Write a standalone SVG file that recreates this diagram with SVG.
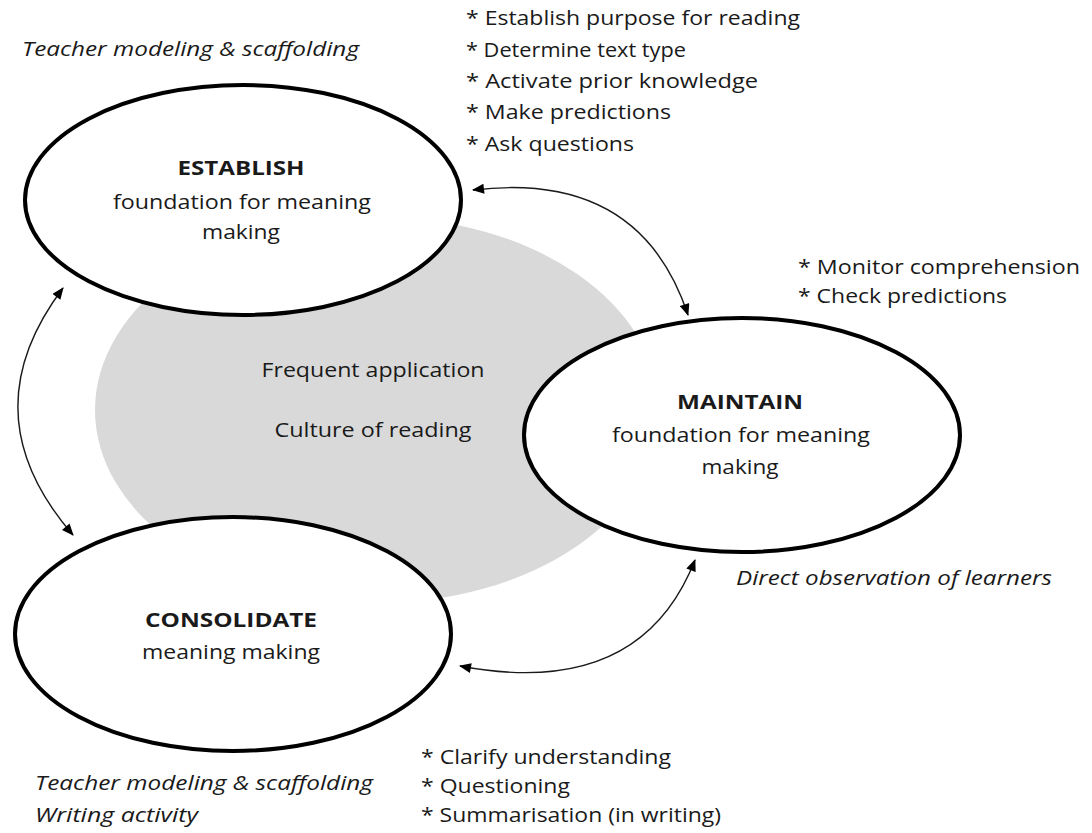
<svg xmlns="http://www.w3.org/2000/svg" width="1092" height="833" viewBox="0 0 1092 833">
  <style>
    text { font-family: "Open Sans", "Noto Sans", "Liberation Sans", sans-serif; fill: #1a1a1a; font-size: 20px; }
    .b { font-weight: bold; }
    .i { font-style: italic; }
    .m { text-anchor: middle; }
    .node { fill: #ffffff; stroke: #000000; stroke-width: 4; }
    .link { fill: none; stroke: #1a1a1a; stroke-width: 1.4; marker-start: url(#head); marker-end: url(#head); }
  </style>
  <defs>
    <marker id="head" viewBox="0 0 12 10" refX="11" refY="5" markerWidth="13" markerHeight="10" markerUnits="userSpaceOnUse" orient="auto-start-reverse">
      <path d="M0,0 L12,5 L0,10 z" fill="#000000"/>
    </marker>
  </defs>

  <rect width="1092" height="833" fill="#ffffff"/>

  <!-- shared core behind the three phases -->
  <g id="core">
    <ellipse cx="377" cy="410" rx="282" ry="193" fill="#d9d9d9"/>
    <text class="m" x="373" y="377" textLength="223" lengthAdjust="spacingAndGlyphs">Frequent application</text>
    <text class="m" x="373" y="437" textLength="197" lengthAdjust="spacingAndGlyphs">Culture of reading</text>
  </g>

  <!-- connectors -->
  <g id="connectors">
    <path class="link" d="M473,190 Q640,170 688,315"/>
    <path class="link" d="M63,288 Q-32,414 73,535"/>
    <path class="link" d="M460,666 Q640,700 695,560"/>
  </g>

  <g id="establish">
    <ellipse class="node" cx="243" cy="200" rx="218" ry="115"/>
    <text class="b m" x="241" y="175" textLength="127" lengthAdjust="spacingAndGlyphs">ESTABLISH</text>
    <text class="m" x="242" y="209" textLength="258" lengthAdjust="spacingAndGlyphs">foundation for meaning</text>
    <text class="m" x="241" y="239" textLength="78" lengthAdjust="spacingAndGlyphs">making</text>
  </g>

  <g id="maintain">
    <ellipse class="node" cx="742" cy="435" rx="218" ry="117"/>
    <text class="b m" x="740" y="409" textLength="126" lengthAdjust="spacingAndGlyphs">MAINTAIN</text>
    <text class="m" x="741" y="442" textLength="258" lengthAdjust="spacingAndGlyphs">foundation for meaning</text>
    <text class="m" x="740" y="474" textLength="77" lengthAdjust="spacingAndGlyphs">making</text>
  </g>

  <g id="consolidate">
    <ellipse class="node" cx="233" cy="634" rx="218" ry="117"/>
    <text class="b m" x="231" y="627" textLength="172" lengthAdjust="spacingAndGlyphs">CONSOLIDATE</text>
    <text class="m" x="231" y="659" textLength="178" lengthAdjust="spacingAndGlyphs">meaning making</text>
  </g>

  <!-- annotations -->
  <g id="notes-establish">
    <text class="i" x="22" y="56" textLength="337" lengthAdjust="spacingAndGlyphs">Teacher modeling &amp; scaffolding</text>
    <text x="466" y="25" textLength="334" lengthAdjust="spacingAndGlyphs">* Establish purpose for reading</text>
    <text x="466" y="57" textLength="220" lengthAdjust="spacingAndGlyphs">* Determine text type</text>
    <text x="466" y="88" textLength="292" lengthAdjust="spacingAndGlyphs">* Activate prior knowledge</text>
    <text x="466" y="119" textLength="205" lengthAdjust="spacingAndGlyphs">* Make predictions</text>
    <text x="466" y="151" textLength="168" lengthAdjust="spacingAndGlyphs">* Ask questions</text>
  </g>
  <g id="notes-maintain">
    <text x="798" y="274" textLength="282" lengthAdjust="spacingAndGlyphs">* Monitor comprehension</text>
    <text x="798" y="303" textLength="209" lengthAdjust="spacingAndGlyphs">* Check predictions</text>
    <text class="i" x="736" y="585" textLength="316" lengthAdjust="spacingAndGlyphs">Direct observation of learners</text>
  </g>
  <g id="notes-consolidate">
    <text class="i" x="35" y="790" textLength="338" lengthAdjust="spacingAndGlyphs">Teacher modeling &amp; scaffolding</text>
    <text class="i" x="35" y="822" textLength="163" lengthAdjust="spacingAndGlyphs">Writing activity</text>
    <text x="421" y="764" textLength="250" lengthAdjust="spacingAndGlyphs">* Clarify understanding</text>
    <text x="421" y="793" textLength="149" lengthAdjust="spacingAndGlyphs">* Questioning</text>
    <text x="421" y="822" textLength="300" lengthAdjust="spacingAndGlyphs">* Summarisation (in writing)</text>
  </g>
</svg>
